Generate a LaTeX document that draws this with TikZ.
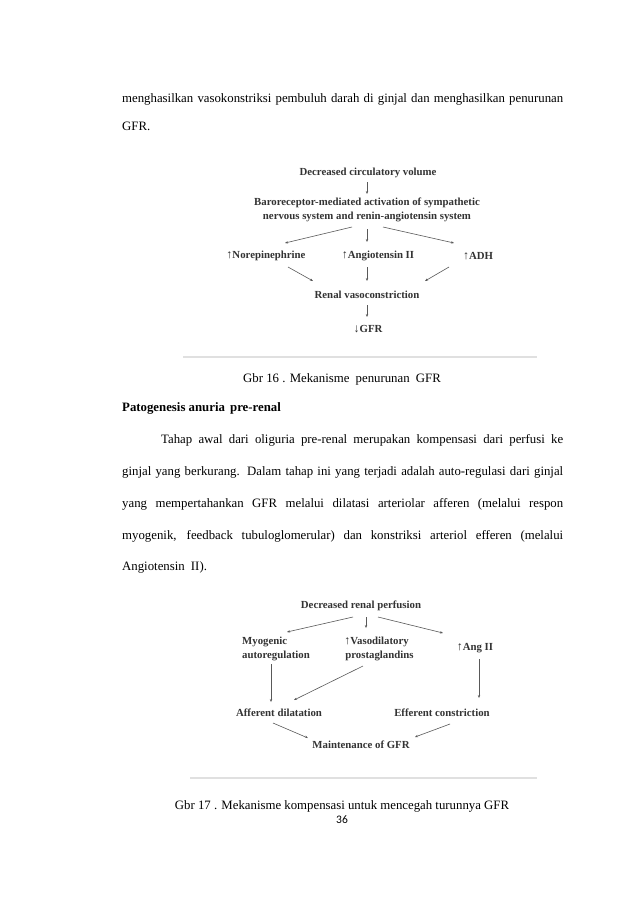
\documentclass[tikz,border=0pt]{standalone}
\usepackage{fontspec}
\setmainfont{Liberation Serif}
\newfontfamily\pgnumfont{Carlito}
\usetikzlibrary{arrows.meta,calc}
\newcommand\upar{{\mdseries\fontsize{12}{12}\selectfont\char"2191}}
\newcommand\dnar{{\mdseries\fontsize{12}{12}\selectfont\char"2193}}
\begin{document}
\begin{tikzpicture}[x=1pt,y=-1pt,
  body/.style={font=\fontsize{12.8}{15}\selectfont, inner sep=0pt, anchor=mid west},
  captxt/.style={font=\fontsize{12.8}{15}\selectfont, inner sep=0pt, anchor=mid},
  dg/.style={font=\fontsize{10.8}{14.5}\selectfont\bfseries, text=black!80, inner sep=1pt},
  arr/.style={draw=black!65, line width=0.6pt, -{Stealth[length=3pt,width=2.4pt]}},
  sep/.style={draw=black!12, line width=1.2pt}]
\useasboundingbox[fill=white] (0,0) rectangle (638,903);

% ---- body text, top
\node[body] (t1) at (122,100) {\makebox[441pt][s]{menghasilkan vasokonstriksi pembuluh darah di ginjal dan menghasilkan penurunan}};
\node[body] (t2) at (122,128) {GFR.};

% ---- diagram 1
\node[dg] (dcv) at (368,173) {Decreased circulatory volume};
\node[dg, align=center] (baro) at (367,210) {Baroreceptor-mediated activation of sympathetic\\nervous system and renin-angiotensin system};
\node[dg] (nore) at (266,256) {\upar Norepinephrine};
\node[dg] (ang) at (378,256) {\upar Angiotensin II};
\node[dg] (adh) at (478,256) {\upar ADH};
\node[dg] (rv) at (367,295) {Renal vasoconstriction};
\node[dg] (gfr) at (368,329) {\dnar GFR};

\draw[arr] ($(dcv)+(-1,9)$) -- ($(baro)+(0,-16)$);
\draw[arr] ($(baro)+(-15,17)$) -- ($(nore)+(19,-13)$);
\draw[arr] ($(baro)+(0,19)$) -- ($(ang)+(-11,-14)$);
\draw[arr] ($(baro)+(16,17)$) -- ($(adh)+(-24,-13)$);
\draw[arr] ($(nore)+(22,11)$) -- ($(rv)+(-54,-14)$);
\draw[arr] ($(ang)+(-11,11)$) -- ($(rv)+(0,-14)$);
\draw[arr] ($(adh)+(-29,11)$) -- ($(rv)+(58,-14)$);
\draw[arr] ($(rv)+(0,10)$) -- ($(gfr)+(-1,-12)$);
\coordinate (s1a) at (183,357);
\coordinate (s1b) at (537,357);
\draw[sep] (s1a) -- (s1b);

\node[captxt] (c1) at (342,380) {Gbr 16 . Mekanisme\hspace{3pt} penurunan\hspace{3pt} GFR};

% ---- body text, middle
\node[body, font=\fontsize{12.8}{15}\selectfont\bfseries] (h1) at (122,409) {Patogenesis anuria\hspace{2pt} pre-renal};
\node[body] (p1) at (161,441) {\makebox[402pt][s]{Tahap awal dari oliguria pre-renal merupakan kompensasi dari perfusi ke}};
\node[body] (p2) at (122,473) {\makebox[441pt][s]{ginjal yang berkurang. Dalam tahap ini yang terjadi adalah auto-regulasi dari ginjal}};
\node[body] (p3) at (122,505) {\makebox[441pt][s]{yang mempertahankan GFR melalui dilatasi arteriolar afferen (melalui respon}};
\node[body] (p4) at (122,537) {\makebox[441pt][s]{myogenik, feedback tubuloglomerular) dan konstriksi arteriol efferen (melalui}};
\node[body] (p5) at (122,568) {Angiotensin\hspace{3pt} II).};

% ---- diagram 2
\node[dg] (drp) at (361,606) {Decreased renal perfusion};
\node[dg, align=left] (myo) at (276,649) {Myogenic\\autoregulation};
\node[dg, align=left] (vaso) at (379,649) {\upar Vasodilatory\\\hspace{1pt}prostaglandins};
\node[dg] (angii) at (475,648) {\upar Ang II};
\node[dg] (aff) at (279,713) {Afferent dilatation};
\node[dg] (eff) at (442,713) {Efferent constriction};
\node[dg] (mgfr) at (361,745) {Maintenance of GFR};

\draw[arr] ($(drp)+(-8,11)$) -- ($(myo)+(11,-17)$);
\draw[arr] ($(drp)+(5,11)$) -- ($(vaso)+(-13,-21)$);
\draw[arr] ($(drp)+(17,11)$) -- ($(angii)+(-32,-15)$);
\draw[arr] ($(myo)+(-5,15)$) -- ($(aff)+(-8,-11)$);
\draw[arr] ($(vaso)+(-16,17)$) -- ($(aff)+(15,-13)$);
\draw[arr] ($(angii)+(4,11)$) -- ($(eff)+(37,-15)$);
\draw[arr] ($(aff)+(-6,10)$) -- ($(mgfr)+(-53,-7)$);
\draw[arr] ($(eff)+(8,11)$) -- ($(mgfr)+(54,-8)$);
\coordinate (s2a) at (190,778);
\coordinate (s2b) at (537,778);
\draw[sep] (s2a) -- (s2b);

\node[captxt] (c2) at (342,807) {Gbr 17 . Mekanisme kompensasi untuk mencegah turunnya GFR};
\node[captxt, font=\pgnumfont\fontsize{11.5}{13}\selectfont] (pg) at (342,821) {36};
\end{tikzpicture}
\end{document}
